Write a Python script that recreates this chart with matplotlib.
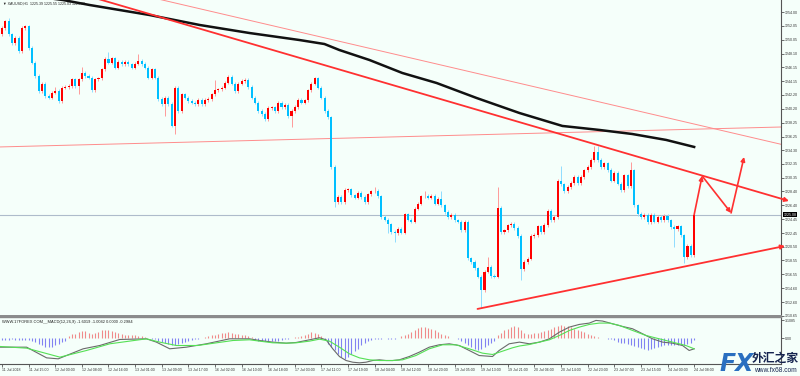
import matplotlib.pyplot as plt
import numpy as np

plt.rcParams['font.family'] = ['Liberation Sans', 'DejaVu Sans', 'Noto Sans CJK SC']

# XAUUSD H1, 11 Jul 07:00 .. 24 Jul 08:00 -- closes
first_open = 1250.83
closes = [
    1251.78, 1252.72, 1250.83, 1249.64, 1250.35, 1248.45, 1251.78, 1252.00, 1248.93, 1246.80,
    1244.90, 1242.77, 1243.72, 1242.06, 1241.82, 1242.53, 1242.77, 1241.34, 1243.24, 1243.34,
    1243.48, 1244.43, 1243.48, 1244.43, 1245.38, 1244.90, 1244.67, 1242.86, 1244.43, 1244.57,
    1245.85, 1247.30, 1246.80, 1247.41, 1246.10, 1246.90, 1246.60, 1246.90, 1246.56, 1246.09,
    1246.66, 1247.04, 1246.60, 1246.09, 1244.67, 1245.85, 1244.67, 1241.58, 1240.90, 1241.80,
    1240.87, 1237.79, 1243.24, 1239.90, 1242.29, 1241.80, 1241.34, 1241.10, 1240.87, 1241.44,
    1240.90, 1241.50, 1241.60, 1242.29, 1242.86, 1243.00, 1243.24, 1243.96, 1244.76, 1243.81,
    1242.77, 1243.81, 1244.19, 1244.30, 1243.34, 1241.82, 1241.11, 1239.92, 1239.45, 1238.74,
    1240.30, 1240.40, 1239.90, 1241.10, 1240.50, 1240.80, 1239.21, 1239.92, 1240.49, 1241.44,
    1241.10, 1241.40, 1242.86, 1243.81, 1244.57, 1243.24, 1241.82, 1239.92, 1238.97, 1231.86,
    1226.88, 1227.59, 1226.90, 1228.64, 1228.70, 1227.83, 1227.50, 1228.16, 1227.60, 1226.90,
    1227.97, 1228.40, 1228.50, 1227.70, 1224.75, 1224.37, 1223.70, 1222.62, 1222.40, 1223.10,
    1222.50, 1225.13, 1224.37, 1224.10, 1225.93, 1226.65, 1227.69, 1227.80, 1227.50, 1227.80,
    1226.65, 1227.36, 1226.41, 1225.46, 1224.75, 1225.00, 1224.27, 1224.10, 1222.85, 1224.04,
    1218.82, 1218.35, 1217.40, 1216.21, 1214.30, 1216.93, 1217.64, 1216.31, 1216.21, 1226.08,
    1222.62, 1222.85, 1223.56, 1223.80, 1223.20, 1222.00, 1217.30, 1218.35, 1218.80, 1222.00,
    1222.20, 1223.40, 1222.60, 1223.60, 1225.60, 1224.30, 1224.75, 1229.96, 1229.40, 1228.40,
    1229.00, 1229.60, 1230.50, 1229.60, 1230.50, 1231.40, 1231.90, 1232.90, 1234.00, 1232.90,
    1231.90, 1232.40, 1231.50, 1229.96, 1231.10, 1229.50, 1228.60, 1230.70, 1229.20, 1231.40,
    1226.40, 1225.20, 1224.75, 1225.10, 1224.04, 1225.00, 1224.10, 1224.75, 1224.30, 1224.90,
    1224.27, 1223.30, 1223.00, 1223.40, 1222.14, 1219.06, 1220.60, 1219.30, 1225.08,
]
# notable wick extremes (bar index: price)
wick_high = {2: 1253.2, 16: 1243.3, 24: 1246.2, 32: 1248.36, 41: 1248.0, 64: 1244.3,
             112: 1229.0, 127: 1228.4, 132: 1228.4, 143: 1217.6, 146: 1219.1, 149: 1229.0,
             168: 1232.1, 178: 1234.9, 179: 1234.9, 189: 1232.6}
wick_low = {23: 1242.3, 49: 1239.2, 52: 1236.6, 87: 1237.55, 100: 1226.2, 116: 1222.4,
            118: 1221.2, 144: 1211.7, 156: 1215.7, 202: 1220.5, 205: 1218.2}

# moving average (bar, price)
ma_bar = [-0.6, 18.3, 26.4, 44.4, 59.4, 74.4, 89.4, 96.9, 101.4, 110.4, 120.3, 130.6,
          142.6, 155.5, 168.4, 179.5, 189.4, 199.6, 208]
ma_val = [1256.90, 1255.76, 1255.04, 1253.61, 1252.19, 1251.04, 1250.04, 1249.47, 1248.61,
          1247.19, 1245.33, 1243.90, 1241.76, 1239.61, 1237.76, 1237.19, 1236.61, 1235.76, 1234.76]

# drawn objects (bar, price)
hline_price = 1225.08
flat_line = ([-0.6, 234.1], [1234.76, 1237.61])
channel_thin = ([-0.6, 234.1], [1261.17, 1235.14])
trend_upper = ([-0.6, 236.5], [1260.01, 1227.04])
trend_lower = ([142.9, 235.3], [1211.61, 1220.61])
proj_bar = [208, 210.4, 219.1, 223.0]
proj_val = [1225.08, 1230.61, 1225.33, 1233.33]

price_ticks = [1254.00, 1252.05, 1250.05, 1248.10, 1246.15, 1244.15, 1242.20, 1240.20,
               1238.25, 1236.25, 1234.30, 1232.35, 1230.35, 1228.40, 1226.40, 1224.45,
               1222.45, 1220.50, 1218.55, 1216.55, 1214.60, 1212.60, 1210.65]

# MACD panel
hist = ([-0.2, -0.25, -0.2, -0.15, -0.2, -0.25, -0.2, -0.2, -0.25]
        + [-0.35, -0.63, -0.92, -1.21, -1.5, -1.5, -1.5, -1.21, -0.92, -0.63, -0.35]
        + [0.35, 0.69, 0.81, 1.09, 1.21, 1.21, 0.92, 0.81, 0.92, 1.09, 1.38, 1.5, 1.38, 1.27,
           1.09, 0.92, 0.81, 0.63, 0.52, 0.52, 0.52, 0.4, 0.35, 0.23]
        + [0.05, -0.05, -0.15]
        + [-0.35, -0.63, -0.81, -0.92, -1.04, -1.21, -0.92, -0.81, -0.63]
        + [-0.35, -0.23, -0.12, -0.06]
        + [0.12, 0.23, 0.35, 0.52, 0.63, 0.81, 0.92, 0.98, 1.09, 0.98, 0.81, 0.69, 0.63, 0.52,
           0.4, 0.23]
        + [-0.23, -0.35, -0.46, -0.52, -0.46, -0.4, -0.35, -0.35, -0.3, -0.15, -0.1, 0.05]
        + [0.23, 0.3, 0.35, 0.6, 0.81, 1.09, 0.92, 0.69, 0.35]
        + [-0.3, -0.92, -1.5, -2.07, -2.65, -3.22, -3.51, -3.11, -2.65, -2.19, -1.78, -1.21,
           -0.81, -0.4]
        + [-0.2, -0.15, -0.1, -0.05, 0.05, -0.1, -0.15, -0.1, 0.05]
        + [0.35, 0.52, 0.81, 1.09, 1.5, 1.78, 1.96, 1.96, 1.84, 1.67, 1.38, 1.09, 0.81, 0.52,
           0.35, 0.12]
        + [0.02]
        + [-0.15, -0.35, -0.81, -1.04, -1.5, -1.78, -2.07, -1.78, -1.5, -1.21, -0.81, -0.46]
        + [0.52, 0.92, 1.38, 1.67, 1.96, 2.07, 1.96, 1.5, 0.98, 0.81, 0.81, 0.92, 0.98, 1.09,
           1.27, 1.38, 1.67, 1.96, 2.19, 2.3, 2.19, 2.07, 1.96, 1.67, 1.5, 1.27, 1.09, 0.81,
           0.52, 0.35, 0.23, 0.12, 0.05]
        + [-0.06, -0.12, -0.29, -0.58, -0.7, -0.86, -1.0, -1.15, -1.35, -1.55, -1.7, -1.84,
           -1.96, -1.84, -1.7, -1.5, -1.35, -1.21, -1.1, -1.04, -1.04, -1.04, -1.04, -1.04,
           -1.0, -0.81, -0.3])
macd_bar = [-0.6, 7.4, 13.4, 16.9, 24.4, 29.4, 35.4, 43.4, 46.4, 50.4, 55.4, 61.4, 68.4, 74.4,
            77.4, 81.4, 85.4, 88.4, 92.4, 95.4, 97.4, 99.4, 101.4, 103.4, 105.4, 107.4, 109.4,
            111.4, 113.4, 115.4, 117.4, 119.4, 122.4, 125.4, 128.4, 131.4, 134.4, 137.4, 140.4,
            143.4, 147.4, 149.4, 152.4, 155.5, 158.5, 161.5, 164.5, 167.5, 170.5, 173.5, 176.5,
            178.5, 180.5, 183.5, 186.5, 189.5, 192.5, 195.5, 198.5, 201.5, 204.5, 206.5, 208]
macd_val = [-1.5, -1.5, -3.34, -3.51, -1.78, -1.21, -0.17, -0.06, -0.63, -1.78, -1.5, -0.92,
            -0.06, -0.06, -0.35, -0.63, -0.81, -0.69, -0.23, 0.12, -0.23, -1.78, -3.11, -3.8,
            -4.09, -4.2, -4.09, -3.8, -3.68, -3.8, -3.8, -3.68, -3.11, -2.36, -1.5, -1.09, -0.92,
            -1.21, -2.07, -2.94, -3.11, -2.07, -0.92, -0.63, -0.92, -0.63, -0.06, 1.09, 1.96,
            2.42, 2.65, 3.11, 3.0, 2.53, 2.07, 1.67, 0.81, -0.06, -0.63, -0.81, -1.21, -2.07, -1.78]
sig_bar = [-0.6, 7.4, 17.4, 25.4, 32.4, 43.4, 47.4, 52.4, 58.8, 69.4, 74.4, 77.4, 81.4, 85.4,
           88.4, 92.4, 95.4, 98.4, 101.4, 104.4, 107.4, 110.4, 113.4, 117.4, 120.4, 124.4, 128.4,
           132.4, 136.4, 140.4, 144.4, 147.4, 150.4, 153.4, 155.5, 158.5, 161.5, 164.5, 167.5,
           170.5, 173.5, 176.5, 179.5, 182.5, 185.5, 189.5, 193.5, 197.5, 201.5, 205.5, 208]
sig_val = [-1.38, -1.67, -3.22, -2.07, -0.92, -0.06, -0.63, -1.21, -1.21, -0.35, -0.23, -0.46,
           -0.75, -0.81, -0.75, -0.46, -0.12, -0.46, -1.5, -2.65, -3.34, -3.68, -3.8, -3.8, -3.68,
           -2.94, -1.78, -1.09, -1.09, -1.78, -2.53, -2.76, -2.19, -1.61, -1.3, -1.04, -0.63,
           -0.23, 0.52, 1.38, 1.96, 2.42, 2.65, 2.65, 2.25, 1.38, 0.52, -0.06, -0.63, -1.21, -1.78]

time_labels = ['11 Jul 2018', '11 Jul 15:00', '12 Jul 00:00', '12 Jul 08:00', '12 Jul 16:00',
               '13 Jul 01:00', '13 Jul 09:00', '13 Jul 17:00', '16 Jul 02:00', '16 Jul 10:00',
               '16 Jul 18:00', '17 Jul 03:00', '17 Jul 11:00', '17 Jul 19:00', '18 Jul 04:00',
               '18 Jul 12:00', '18 Jul 20:00', '19 Jul 05:00', '19 Jul 13:00', '19 Jul 21:00',
               '20 Jul 06:00', '20 Jul 14:00', '22 Jul 23:00', '23 Jul 07:00', '23 Jul 15:00',
               '24 Jul 00:00', '24 Jul 08:00']

BG = '#f5fffa'
UP, DN = '#ff0000', '#00bfff'
SMALL = 2.6

fig = plt.figure(figsize=(8, 3.76), dpi=100, facecolor=BG)
W, H = 800, 376
ax = fig.add_axes((0, 1 - 316 / H, 781 / W, 316 / H), facecolor=BG)
axm = fig.add_axes((0, 1 - 364 / H, 781 / W, 47 / H), facecolor=BG)

n = len(closes)
idx = np.arange(n)
closes = np.array(closes)
opens = np.concatenate([[first_open], closes[:-1]])
up = closes >= opens
top = np.maximum(opens, closes)
bot = np.minimum(opens, closes)
highs = np.array([wick_high.get(i, top[i] + 0.25) for i in range(n)])
lows = np.array([wick_low.get(i, bot[i] - 0.25) for i in range(n)])

ax.vlines(idx, lows, highs, colors=np.where(up, '#ff9a9a', '#8fdcff'), lw=0.7, zorder=2)
body_h = np.maximum(top - bot, 0.12)
ax.bar(idx, body_h, bottom=bot, width=0.62, color=np.where(up, UP, DN), lw=0, zorder=3)

ax.axhline(hline_price, color='#aebccb', lw=0.8, zorder=1)
ax.plot(*flat_line, color='#ff8c8c', lw=0.7, zorder=1)
ax.plot(*channel_thin, color='#ff8c8c', lw=0.7, zorder=1)
ax.plot(ma_bar, ma_val, color='#111111', lw=1.8, zorder=4, solid_joinstyle='round')

for (xs, ys) in (trend_upper, trend_lower):
    ax.annotate('', xy=(xs[1], ys[1]), xytext=(xs[0], ys[0]), annotation_clip=False,
                arrowprops=dict(arrowstyle='-|>', color='#ff3030', lw=1.3,
                                mutation_scale=6, shrinkA=0, shrinkB=0), zorder=5)
for k in range(len(proj_bar) - 1):
    ax.annotate('', xy=(proj_bar[k + 1], proj_val[k + 1]), xytext=(proj_bar[k], proj_val[k]),
                arrowprops=dict(arrowstyle='-|>', color='#ff3030', lw=1.2,
                                mutation_scale=6, shrinkA=0, shrinkB=0), zorder=5)

ax.set_xlim(-0.6, 234.1)
ax.set_ylim(1210.6, 1255.76)
ax.yaxis.tick_right()
ax.set_yticks(price_ticks)
ax.set_yticklabels([f'{p:.2f}' for p in price_ticks])
ax.tick_params(axis='y', labelsize=SMALL, length=2, width=0.5, pad=1.0, colors='#333333')
ax.set_xticks([])
for s in ('left', 'top'):
    ax.spines[s].set_visible(False)
ax.spines['right'].set_color('#555555')
ax.spines['right'].set_linewidth(0.8)
ax.spines['bottom'].set_color('#8a8a8a')
ax.spines['bottom'].set_linewidth(1.4)

ax.text(1.003, hline_price, f'{hline_price:.2f}', transform=ax.get_yaxis_transform(),
        fontsize=SMALL, color='white', va='center', ha='left',
        bbox=dict(boxstyle='square,pad=0.2', fc='black', ec='none'))
ax.text(0.004, 0.988, '\u25bc XAUUSD,H1  1225.39 1225.55 1225.03 1225.08',
        transform=ax.transAxes, fontsize=SMALL, color='#222222', va='center', ha='left')

# MACD panel
hist = np.array(hist)
axm.vlines(idx, 0, hist, colors=np.where(hist >= 0, '#f08a8a', '#8282f2'), lw=0.8)
axm.plot(macd_bar, macd_val, color='#6a6a6a', lw=0.8)
axm.plot(sig_bar, sig_val, color='#55e055', lw=0.8)
axm.set_xlim(-0.6, 234.1)
axm.set_ylim(-4.4, 3.7)
axm.yaxis.tick_right()
axm.set_yticks([3.1085, 0.0])
axm.set_yticklabels(['3.1085', '0.00'])
axm.tick_params(axis='y', labelsize=SMALL, length=2, width=0.5, pad=1.0, colors='#333333')
axm.set_xticks(np.arange(len(time_labels)) * 8)
axm.set_xticklabels(time_labels)
axm.tick_params(axis='x', labelsize=SMALL, length=2, width=0.5, pad=1.0, colors='#333333')
for lab in axm.get_xticklabels():
    lab.set_ha('left')
axm.spines['left'].set_visible(False)
axm.spines['right'].set_color('#555555')
axm.spines['right'].set_linewidth(0.8)
axm.spines['top'].set_color('#8a8a8a')
axm.spines['top'].set_linewidth(1.0)
axm.spines['bottom'].set_color('#555555')
axm.spines['bottom'].set_linewidth(0.8)
axm.text(0.002, 0.90, 'WWW.17FOREX.COM__MACD(12,26,9) -1.6019 -1.0042 0.0000 -0.2984',
         transform=axm.transAxes, fontsize=SMALL + 0.3, color='#222222', va='center', ha='left')

# watermark
fig.text(719 / W, 1 - 364 / H, 'FX', fontsize=17, fontweight='bold', fontstyle='italic',
         family=['DejaVu Sans'], color='#2a6fc0', ha='left', va='center')
fig.text(752 / W, 1 - 358 / H, '外汇之家', fontsize=8.5, fontweight='bold',
         family=['Noto Sans CJK SC', 'DejaVu Sans'], color='#16244f', ha='left', va='center')
fig.text(754 / W, 1 - 370 / H, 'www.fx68.com', fontsize=4.8, color='#16244f',
         ha='left', va='center')

fig.savefig('out.png', dpi=100, facecolor=BG)
